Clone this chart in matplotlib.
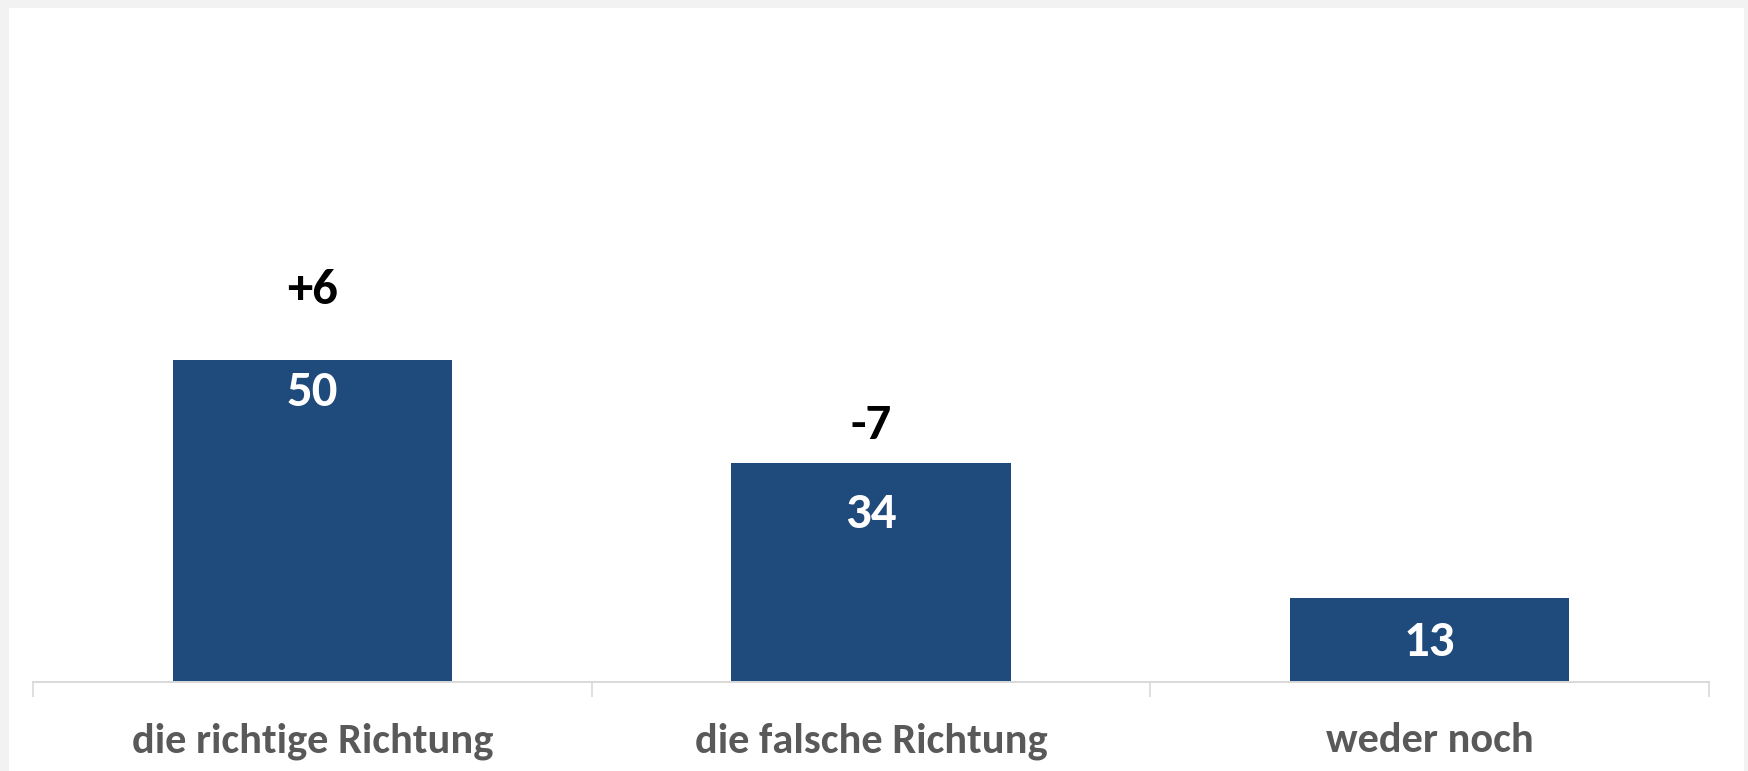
import numpy as np
import matplotlib.pyplot as plt
from matplotlib.patches import Rectangle

# Werte aus der Grafik
categories = ["die richtige Richtung", "die falsche Richtung", "weder noch"]
values = [50, 34, 13]
changes = ["+6", "-7", ""]

# Abstaende der Beschriftungen (Pixel, relativ zur Balkenoberkante)
inner_dy = [-46, -65, -58]
change_dy = [56, 24, 0]

bar_color = "#1F4A7C"
W, H, DPI = 1748, 771, 100

plt.rcParams['font.family'] = ['Carlito', 'Lato', 'DejaVu Sans']

fig = plt.figure(figsize=(W / DPI, H / DPI), dpi=DPI, facecolor="#F2F2F2")
fig.patches.append(Rectangle((9 / W, 0), (1744 - 9) / W, (H - 8) / H,
                             transform=fig.transFigure, facecolor="white",
                             edgecolor="none", zorder=-10))

ax = fig.add_axes([33 / W, (H - 682) / H, (1709 - 33) / W, 645 / H])
ax.set_facecolor("none")

x = np.arange(len(categories))
ax.bar(x, values, width=0.5, color=bar_color, zorder=2)
ax.set_xlim(-0.5, len(categories) - 0.5)
ax.set_ylim(0, 100)

for s in ["top", "right", "left"]:
    ax.spines[s].set_visible(False)
ax.spines["bottom"].set_color("#D9D9D9")
ax.spines["bottom"].set_linewidth(1.4)
ax.set_yticks([])

ax.set_xticks([])
ax.set_xticks(np.arange(-0.5, len(categories)), minor=True)
ax.tick_params(axis="x", which="minor", length=11, width=1.2,
               color="#D9D9D9", labelbottom=False)

pt = 72 / DPI
for i, v in enumerate(values):
    ax.annotate(str(v), (x[i], v), xytext=(0, inner_dy[i] * pt),
                textcoords="offset points", ha="center", va="baseline",
                color="white", fontsize=36.5, fontweight="bold")
    if changes[i]:
        ax.annotate(changes[i], (x[i], v), xytext=(0, change_dy[i] * pt),
                    textcoords="offset points", ha="center", va="baseline",
                    color="black", fontsize=36.5, fontweight="bold")
    ax.annotate(categories[i], (x[i], 0), xytext=(0, -70 * pt),
                textcoords="offset points", ha="center", va="baseline",
                color="#595959", fontsize=30.5, fontweight="bold",
                annotation_clip=False)

fig.savefig("out.png", dpi=DPI, facecolor=fig.get_facecolor())
